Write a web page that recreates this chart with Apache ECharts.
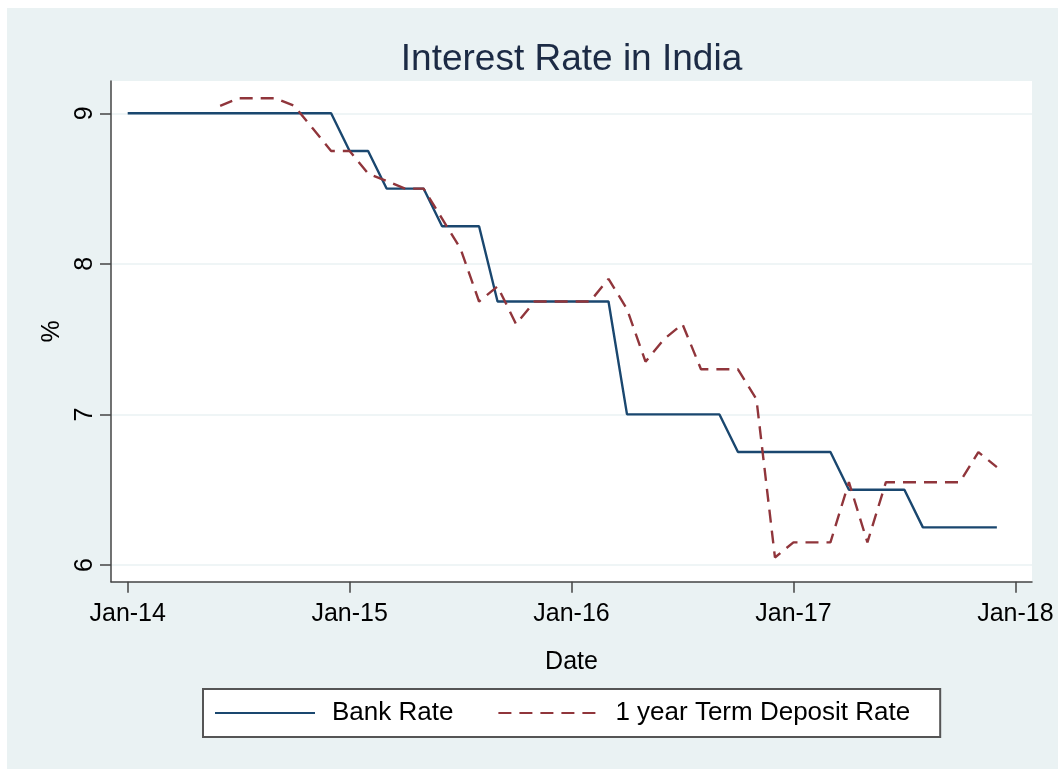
<!DOCTYPE html>
<html>
<head>
<meta charset="utf-8">
<script src="https://cdn.jsdelivr.net/npm/echarts@6/dist/echarts.min.js"></script>
<style>
  html, body { margin: 0; padding: 0; background: #ffffff; }
  #chart { width: 1058px; height: 769px; }
</style>
</head>
<body>
<div id="chart"></div>
<script>
// Monthly observations, Jan 2014 to Dec 2017
const months = [
  '2014-01','2014-02','2014-03','2014-04','2014-05','2014-06','2014-07','2014-08','2014-09','2014-10','2014-11','2014-12',
  '2015-01','2015-02','2015-03','2015-04','2015-05','2015-06','2015-07','2015-08','2015-09','2015-10','2015-11','2015-12',
  '2016-01','2016-02','2016-03','2016-04','2016-05','2016-06','2016-07','2016-08','2016-09','2016-10','2016-11','2016-12',
  '2017-01','2017-02','2017-03','2017-04','2017-05','2017-06','2017-07','2017-08','2017-09','2017-10','2017-11','2017-12'
];

// Bank Rate (%)
const bankRate = [
  9, 9, 9, 9, 9, 9, 9, 9, 9, 9, 9, 9,
  8.75, 8.75, 8.5, 8.5, 8.5, 8.25, 8.25, 8.25, 7.75, 7.75, 7.75, 7.75,
  7.75, 7.75, 7.75, 7, 7, 7, 7, 7, 7, 6.75, 6.75, 6.75,
  6.75, 6.75, 6.75, 6.5, 6.5, 6.5, 6.5, 6.25, 6.25, 6.25, 6.25, 6.25
];

// 1 year Term Deposit Rate (%), first reported Jun 2014
const depositRate = [
  null, null, null, null, null, 9.05, 9.1, 9.1, 9.1, 9.05, 8.9, 8.75,
  8.75, 8.6, 8.55, 8.5, 8.5, 8.3, 8.1, 7.75, 7.85, 7.6, 7.75, 7.75,
  7.75, 7.75, 7.9, 7.7, 7.35, 7.5, 7.6, 7.3, 7.3, 7.3, 7.1, 6.05,
  6.15, 6.15, 6.15, 6.55, 6.15, 6.55, 6.55, 6.55, 6.55, 6.55, 6.75, 6.65
];

const yTicks = [6, 7, 8, 9];
const xTickMonths = ['2014-01', '2015-01', '2016-01', '2017-01', '2018-01'];
const xTickLabels = ['Jan-14', 'Jan-15', 'Jan-16', 'Jan-17', 'Jan-18'];

// months counted from Jan 2014
function monthIndex(ym) {
  const [y, m] = ym.split('-').map(Number);
  return (y - 2014) * 12 + (m - 1);
}
const xTickValues = xTickMonths.map(monthIndex);

function toPairs(values) {
  const out = [];
  values.forEach((v, i) => { if (v !== null) out.push([monthIndex(months[i]), v]); });
  return out;
}

const FONT = '"Liberation Sans", Arial, sans-serif';
const AXIS_COLOR = '#444444';
const BLUE = '#1a476f';
const RED = '#90353b';

const chart = echarts.init(document.getElementById('chart'), null, { renderer: 'canvas' });

chart.setOption({
  backgroundColor: '#ffffff',
  animation: false,
  textStyle: { fontFamily: FONT },
  graphic: [{
    type: 'rect',
    z: -100,
    shape: { x: 7, y: 8, width: 1051, height: 761 },
    style: { fill: '#eaf2f3' }
  }],
  title: {
    text: 'Interest Rate in India',
    left: 571.5,
    top: 41,
    padding: 0,
    textAlign: 'center',
    textStyle: { fontFamily: FONT, fontSize: 37, fontWeight: 'normal', color: '#1c2b45' }
  },
  grid: {
    left: 111,
    top: 81,
    width: 921,
    height: 500.7,
    show: true,
    backgroundColor: '#ffffff',
    borderWidth: 0,
    containLabel: false,
    outerBoundsMode: 'none'
  },
  legend: {
    left: 203,
    top: 689,
    orient: 'horizontal',
    padding: [11, 30, 11, 11],
    itemGap: 44,
    itemWidth: 100,
    itemHeight: 20,
    backgroundColor: '#ffffff',
    borderColor: '#555555',
    borderWidth: 2,
    borderRadius: 0,
    itemStyle: { opacity: 0 },
    textStyle: { fontFamily: FONT, fontSize: 26, color: '#000000', padding: [0, 0, 0, 12] },
    data: ['Bank Rate', '1 year Term Deposit Rate']
  },
  xAxis: {
    type: 'value',
    min: -0.903,
    max: 48.9,
    name: 'Date',
    nameLocation: 'middle',
    nameGap: 68,
    nameTextStyle: { fontFamily: FONT, fontSize: 25, color: '#000000' },
    axisLine: { show: true, onZero: false, lineStyle: { color: AXIS_COLOR, width: 1.5 } },
    axisTick: { show: true, customValues: xTickValues, length: 11, lineStyle: { color: AXIS_COLOR, width: 1.5 } },
    axisLabel: {
      customValues: xTickValues,
      margin: 20,
      fontFamily: FONT,
      fontSize: 25,
      color: '#000000',
      formatter: v => xTickLabels[xTickValues.indexOf(v)] || ''
    },
    splitLine: { show: false }
  },
  yAxis: {
    type: 'value',
    min: 5.889,
    max: 9.2145,
    name: '%',
    nameLocation: 'middle',
    nameRotate: 90,
    nameGap: 37,
    nameTextStyle: { fontFamily: FONT, fontSize: 25, color: '#000000' },
    axisLine: { show: true, onZero: false, lineStyle: { color: AXIS_COLOR, width: 1.5 } },
    axisTick: { show: true, customValues: yTicks, length: 11, lineStyle: { color: AXIS_COLOR, width: 1.5 } },
    axisLabel: {
      customValues: yTicks,
      rotate: 90,
      margin: 13,
      fontFamily: FONT,
      fontSize: 25,
      color: '#000000'
    },
    splitLine: { show: true, lineStyle: { color: '#eaf2f3', width: 1.5 } }
  },
  series: [
    {
      name: 'Bank Rate',
      type: 'line',
      data: toPairs(bankRate),
      symbol: 'none',
      color: BLUE,
      lineStyle: { color: BLUE, width: 2.4 },
      z: 3
    },
    {
      name: '1 year Term Deposit Rate',
      type: 'line',
      data: toPairs(depositRate),
      symbol: 'none',
      color: RED,
      lineStyle: { color: RED, width: 2.4, type: [13, 8] },
      z: 4
    }
  ]
});
</script>
</body>
</html>
